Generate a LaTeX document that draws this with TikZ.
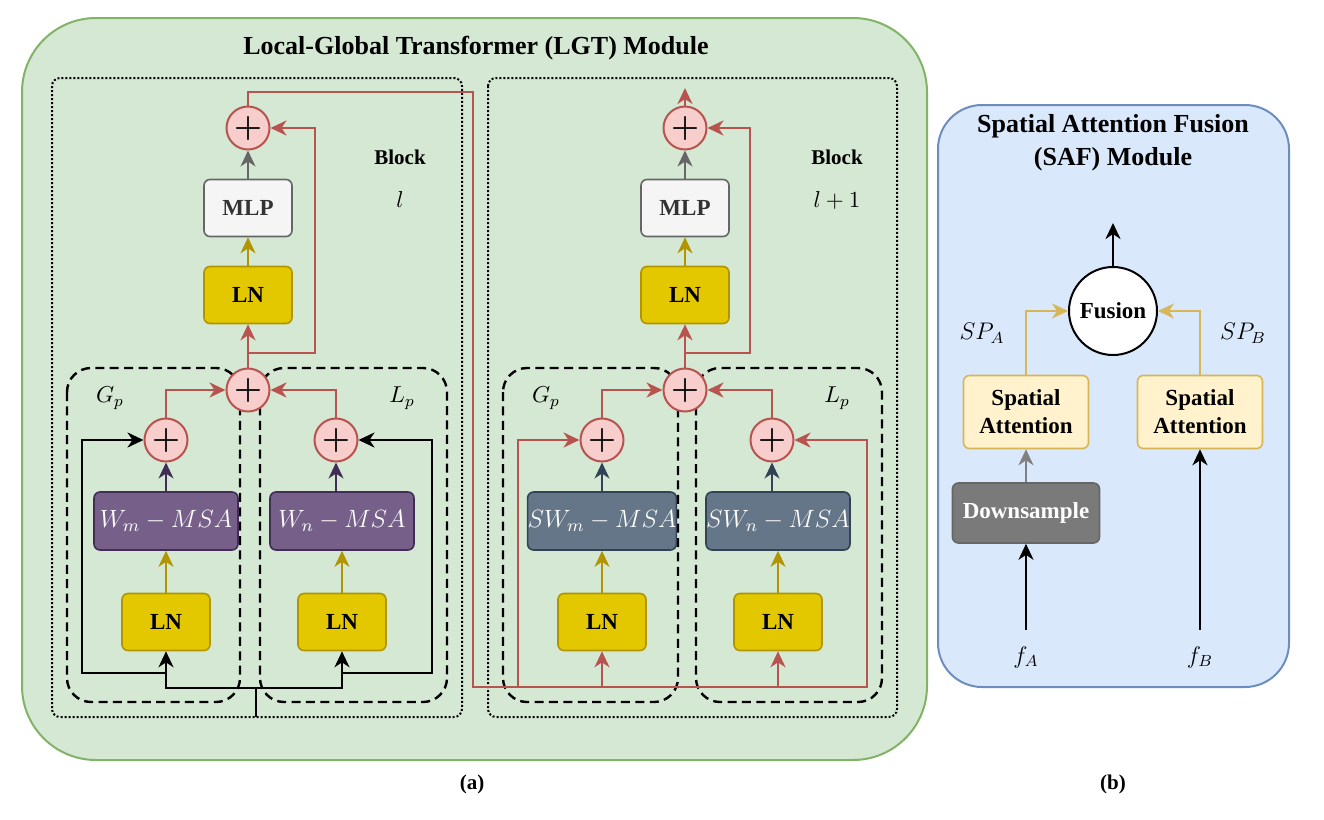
\RequirePackage{fix-cm}
\documentclass[tikz,border=0pt]{standalone}
\usepackage{fontspec}
\setmainfont{Liberation Serif}
\usetikzlibrary{arrows.meta}

\definecolor{grnfill}{HTML}{D5E8D4}
\definecolor{grndraw}{HTML}{82B366}
\definecolor{bluefill}{HTML}{DAE8FC}
\definecolor{bluedraw}{HTML}{6C8EBF}
\definecolor{redfill}{HTML}{F8CECC}
\definecolor{reddraw}{HTML}{B85450}
\definecolor{lnfill}{HTML}{E3C800}
\definecolor{lndraw}{HTML}{B09500}
\definecolor{mlpfill}{HTML}{F5F5F5}
\definecolor{mlpdraw}{HTML}{666666}
\definecolor{prpfill}{HTML}{76608A}
\definecolor{prpdraw}{HTML}{432D57}
\definecolor{slatefill}{HTML}{647687}
\definecolor{slatedraw}{HTML}{314354}
\definecolor{safill}{HTML}{FFF2CC}
\definecolor{sadraw}{HTML}{D6B656}
\definecolor{dsfill}{HTML}{7A7A7A}

\begin{document}
\begin{tikzpicture}
[x=0.5pt,y=-0.5pt,
>={Stealth[length=8pt,width=7.5pt,inset=2.5pt]},
plus/.style={circle,draw=reddraw,fill=redfill,line width=1pt,minimum size=21.5pt,inner sep=0pt,font=\fontsize{16}{16}\selectfont\boldmath},
box/.style={rectangle,rounded corners=3pt,line width=0.8pt,inner sep=0pt,minimum width=44pt,minimum height=28.5pt},
ln/.style={box,draw=lndraw,fill=lnfill,font=\fontsize{11.5}{13}\selectfont\bfseries},
mlp/.style={box,draw=mlpdraw,fill=mlpfill,text=black!80,font=\fontsize{11.5}{13}\selectfont\bfseries},
msa/.style={box,draw=prpdraw,fill=prpfill,text=white,minimum width=72pt,minimum height=29pt,font=\fontsize{12.5}{15}\selectfont},
smsa/.style={msa,draw=slatedraw,fill=slatefill},
sa/.style={box,draw=sadraw,fill=safill,minimum width=62.5pt,minimum height=36.5pt,align=center,font=\fontsize{11.5}{14}\selectfont\bfseries},
down/.style={box,draw=mlpdraw,fill=dsfill,text=white,minimum width=73.5pt,minimum height=30pt,font=\fontsize{11.5}{13}\selectfont\bfseries},
fuse/.style={circle,draw=black,fill=white,line width=1pt,minimum size=44pt,inner sep=0pt,font=\fontsize{11.5}{13}\selectfont\bfseries},
title/.style={align=center,font=\fontsize{13}{16.5}\selectfont\bfseries},
blocktxt/.style={font=\fontsize{10.5}{12}\selectfont\bfseries},
mathtxt/.style={font=\fontsize{11.5}{13}\selectfont},
wire/.style={draw=black,line width=1.3pt},
redline/.style={draw=reddraw,line width=1.3pt},
ylw/.style={draw=lndraw,line width=1pt},
gry/.style={draw=mlpdraw,line width=1pt},
prp/.style={draw=prpdraw,line width=1pt},
slate/.style={draw=slatedraw,line width=1pt},
saline/.style={draw=sadraw,line width=1pt},
dotframe/.style={draw=black,line width=1pt,dash pattern=on 1pt off 1pt,rounded corners=4pt},
dashframe/.style={draw=black,line width=1.2pt,dash pattern=on 4.5pt off 2.7pt,rounded corners=12pt}]
\useasboundingbox (0,0) rectangle (1324,820);

% modules
\draw[draw=grndraw,fill=grnfill,line width=1pt,rounded corners=37pt] (22,18) rectangle (927,760);
\draw[draw=bluedraw,fill=bluefill,line width=1pt,rounded corners=22pt] (938,105) rectangle (1289,687);
\node[title] (lgtTitle) at (476,48) {Local-Global Transformer (LGT) Module};
\node[title] (safTitle) at (1113,143) {Spatial Attention Fusion\\(SAF) Module};

% frames
\draw[dotframe] (52,78) rectangle (462,717);
\draw[dotframe] (488,78) rectangle (897,717);
\draw[dashframe] (67,368) rectangle (240,702);
\draw[dashframe] (260,368) rectangle (447,702);
\draw[dashframe] (503,368) rectangle (678,702);
\draw[dashframe] (696,368) rectangle (882,702);

% block l
\node[plus] (addTopA) at (248,128) {$+$};
\node[mlp] (mlpA) at (248,208) {MLP};
\node[ln] (lnA) at (248,295) {LN};
\node[plus] (addMidA) at (248,390) {$+$};
\node[plus] (addGA) at (166,440) {$+$};
\node[plus] (addLA) at (336,440) {$+$};
\node[msa] (msaGA) at (166,521) {$W_m-MSA$};
\node[msa] (msaLA) at (342,521) {$W_n-MSA$};
\node[ln] (lnGA) at (166,622) {LN};
\node[ln] (lnLA) at (342,622) {LN};
\node[blocktxt] (blockA) at (400,157) {Block};
\node[mathtxt] (idxA) at (400,200) {$l$};
\node[mathtxt] (gpA) at (110,398) {$G_p$};
\node[mathtxt] (lpA) at (402,398) {$L_p$};

% block l+1
\node[plus] (addTopB) at (685,128) {$+$};
\node[mlp] (mlpB) at (685,208) {MLP};
\node[ln] (lnB) at (685,295) {LN};
\node[plus] (addMidB) at (685,390) {$+$};
\node[plus] (addGB) at (602,440) {$+$};
\node[plus] (addLB) at (772,440) {$+$};
\node[smsa] (msaGB) at (602,521) {$SW_m-MSA$};
\node[smsa] (msaLB) at (778,521) {$SW_n-MSA$};
\node[ln] (lnGB) at (602,622) {LN};
\node[ln] (lnLB) at (778,622) {LN};
\node[blocktxt] (blockB) at (837,157) {Block};
\node[mathtxt] (idxB) at (837,200) {$l+1$};
\node[mathtxt] (gpB) at (546,398) {$G_p$};
\node[mathtxt] (lpB) at (837,398) {$L_p$};

% SAF
\node[fuse] (fusion) at (1113,311) {Fusion};
\node[sa] (saA) at (1026,412) {Spatial\\Attention};
\node[sa] (saB) at (1200,412) {Spatial\\Attention};
\node[down] (down) at (1026,513) {Downsample};
\node[mathtxt,font=\fontsize{12}{14}\selectfont] (spA) at (982,333) {$SP_A$};
\node[mathtxt,font=\fontsize{12}{14}\selectfont] (spB) at (1243,333) {$SP_B$};
\node[mathtxt,font=\fontsize{12}{14}\selectfont] (fA) at (1026,657) {$f_A$};
\node[mathtxt,font=\fontsize{12}{14}\selectfont] (fB) at (1200,657) {$f_B$};
\node[blocktxt] (capA) at (472,784) {(a)};
\node[blocktxt] (capB) at (1113,784) {(b)};

% connectors, block l
\coordinate (inA) at (256,717);
\coordinate (splitA) at (256,688);
\coordinate (loopGA) at (166,673);
\coordinate (loopLA) at (342,673);
\draw[wire] (inA) -- (splitA);
\draw[wire,->] (splitA) -| (lnGA);
\draw[wire,->] (splitA) -| (lnLA);
\draw[wire,->] (loopGA) -- ++(-84,0) |- (addGA);
\draw[wire,->] (loopLA) -- ++(90,0) |- (addLA);
\draw[ylw,->] (lnGA) -- (msaGA);
\draw[ylw,->] (lnLA) -- (msaLA);
\draw[prp,->] (msaGA) -- (addGA);
\draw[prp,->] (msaLA.north -| addLA) -- (addLA);
\draw[redline,->] (addGA) |- (addMidA);
\draw[redline,->] (addLA) |- (addMidA);
\draw[redline,->] (addMidA) -- (lnA);
\coordinate (skipA) at (248,353);
\draw[redline,->] (skipA) -- ++(67,0) |- (addTopA);
\draw[ylw,->] (lnA) -- (mlpA);
\draw[gry,->] (mlpA) -- (addTopA);

% connectors, block l+1
\coordinate (linkA) at (473,92);
\coordinate (busB) at (473,687);
\coordinate (tapGB) at (518,687);
\draw[redline,->] (addTopA) |- (linkA) -- (busB) -- ++(394,0) |- (addLB);
\draw[redline,->] (tapGB) |- (addGB);
\draw[redline,->] (busB -| lnGB) -- (lnGB);
\draw[redline,->] (busB -| lnLB) -- (lnLB);
\draw[ylw,->] (lnGB) -- (msaGB);
\draw[ylw,->] (lnLB) -- (msaLB);
\draw[slate,->] (msaGB) -- (addGB);
\draw[slate,->] (msaLB.north -| addLB) -- (addLB);
\draw[redline,->] (addGB) |- (addMidB);
\draw[redline,->] (addLB) |- (addMidB);
\draw[redline,->] (addMidB) -- (lnB);
\coordinate (skipB) at (685,353);
\draw[redline,->] (skipB) -- ++(65,0) |- (addTopB);
\draw[ylw,->] (lnB) -- (mlpB);
\draw[gry,->] (mlpB) -- (addTopB);
\draw[redline,->] (addTopB) -- ++(0,-40);

% connectors, SAF
\coordinate (srcA) at (1026,630);
\coordinate (srcB) at (1200,630);
\draw[wire,->] (srcA) -- (down);
\draw[wire,->] (srcB) -- (saB);
\draw[gry,draw=gray,->] (down) -- (saA);
\draw[saline,->] (saA) |- (fusion);
\draw[saline,->] (saB) |- (fusion);
\draw[wire,->] (fusion) -- ++(0,-88);
\end{tikzpicture}
\end{document}
